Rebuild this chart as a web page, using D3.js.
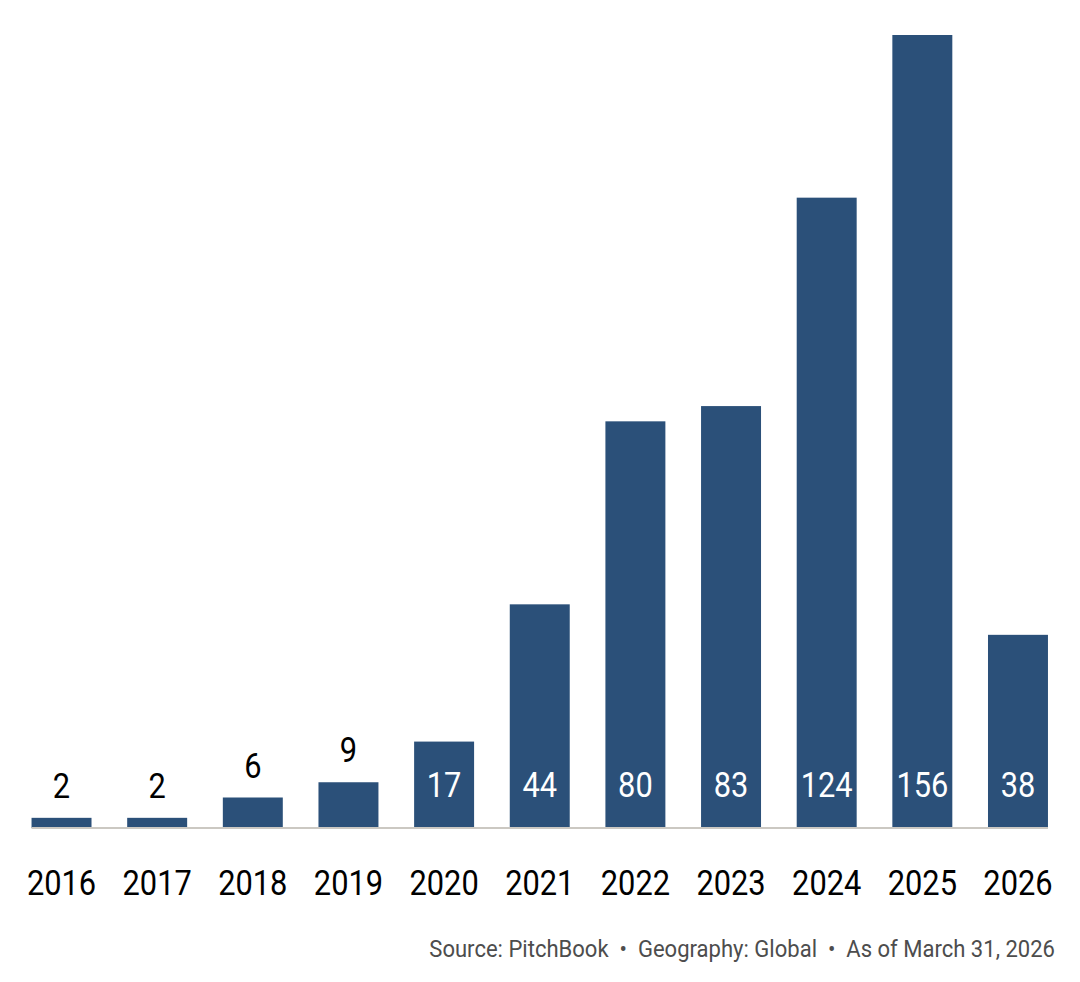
<!DOCTYPE html>
<html>
<head>
<meta charset="utf-8">
<script src="https://cdn.jsdelivr.net/npm/d3@7"></script>
<style>
  html, body { margin: 0; padding: 0; background: #fff; }
  text { font-family: Roboto, "Noto Sans", sans-serif; }
</style>
</head>
<body>
<div id="chart"></div>
<script>
// data
const years = ["2016", "2017", "2018", "2019", "2020", "2021", "2022", "2023", "2024", "2025", "2026"]
const counts = [2, 2, 6, 9, 17, 44, 80, 83, 124, 156, 38]
const footerParts = ["Source: PitchBook", "Geography: Global", "As of March 31, 2026"]

const rows = years.map((y, i) => ({ year: y, count: counts[i] }))

// dimensions
const width = 1080
const height = 982
const baseY = 828
const squeeze = 0.88 // fake the condensed face

const svg = d3.select("#chart")
  .append("svg")
    .attr("width", width)
    .attr("height", height)

// scales
const xScale = d3.scaleBand()
  .domain(years)
  .range([13.7, 1065.8])
  .paddingInner(0.373)
  .paddingOuter(0.1865)

const yScale = d3.scaleLinear()
  .domain([0, 156])
  .range([baseY, 35])

// bars
svg.append("g")
  .selectAll("rect")
  .data(rows)
  .join("rect")
    .attr("x", d => xScale(d.year))
    .attr("y", d => yScale(d.count))
    .attr("width", xScale.bandwidth())
    .attr("height", d => baseY - yScale(d.count))
    .attr("fill", "#2b5079")

// baseline
svg.append("line")
  .attr("x1", xScale(years[0]))
  .attr("x2", xScale(years[years.length - 1]) + xScale.bandwidth())
  .attr("y1", baseY)
  .attr("y2", baseY)
  .attr("stroke", "#cbc8c2")
  .attr("stroke-width", 2)

// value labels: inside when the bar is tall enough, above otherwise
const fits = d => baseY - yScale(d.count) > 60
svg.append("g")
  .selectAll("text")
  .data(rows)
  .join("text")
    .attr("transform", d => {
      const cx = xScale(d.year) + xScale.bandwidth() / 2
      const ty = fits(d) ? 797 : yScale(d.count) - 20
      return `translate(${cx},${ty}) scale(${squeeze},1)`
    })
    .attr("text-anchor", "middle")
    .attr("font-size", 35)
    .attr("fill", d => fits(d) ? "#ffffff" : "#000000")
    .text(d => d.count)

// x axis
const xAxis = svg.append("g")
  .attr("transform", `translate(0,${baseY})`)
  .call(d3.axisBottom(xScale).tickSize(0).tickPadding(0))

xAxis.select(".domain").remove()
xAxis.selectAll("text")
  .attr("font-family", "Roboto")
  .attr("font-size", 35)
  .attr("fill", "#000")
  .attr("dy", null)
  .attr("y", null)
  .attr("transform", `translate(0,67) scale(${squeeze},1)`)

// footer
svg.append("text")
  .attr("transform", `translate(1055,957) scale(0.9,1)`)
  .attr("text-anchor", "end")
  .attr("font-size", 24.5)
  .attr("fill", "#4d4d4d")
  .style("white-space", "pre")
  .text(footerParts.join("  \u2022  "))
</script>
</body>
</html>
